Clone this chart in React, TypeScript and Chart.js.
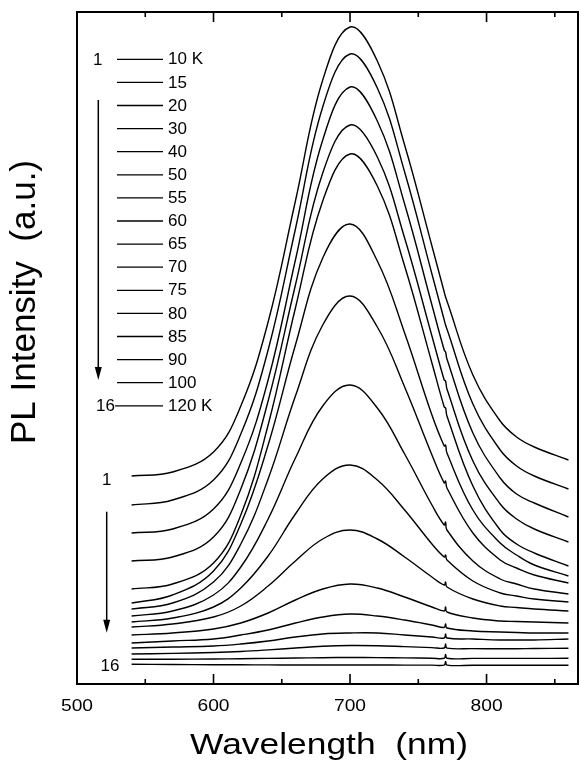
import React, { useEffect, useRef } from 'react';
import { Chart, registerables } from 'chart.js';

Chart.register(...registerables);

// Wavelength sample positions (nm)
const WAVELENGTHS = [540, 570, 600, 620, 640, 660, 680, 700, 720, 740, 760, 769, 770, 771, 790, 810, 822, 835, 860];

// PL intensity (a.u., stacked offsets as drawn), curves 1 (10 K) .. 16 (120 K)
const C1 = [207, 211, 231, 277, 361, 482, 603, 656, 622, 538, 437, 391, 386, 382, 308, 262, 246, 236, 223];
const C2 = [178, 183, 203, 249, 333, 454, 576, 629, 595, 511, 409, 363, 358, 354, 279, 233, 217, 207, 194];
const C3 = [150, 154, 174, 220, 303, 423, 543, 596, 562, 479, 378, 333, 331, 324, 250, 205, 189, 180, 166];
const C4 = [122, 126, 146, 194, 282, 398, 510, 558, 526, 445, 347, 303, 302, 294, 222, 179, 164, 154, 141];
const C5 = [94, 99, 120, 168, 258, 375, 482, 529, 497, 417, 320, 276, 275, 267, 197, 153, 139, 130, 117];
const C6 = [80, 88, 112, 159, 238, 338, 425, 459, 422, 350, 268, 237, 238, 230, 173, 140, 128, 118, 107];
const C7 = [74, 80, 101, 139, 204, 287, 358, 387, 356, 296, 228, 200, 202, 195, 150, 123, 115, 108, 100];
const C8 = [67, 72, 88, 116, 164, 225, 277, 298, 275, 229, 178, 158, 161, 153, 122, 104, 99, 94, 89];
const C9 = [61, 65, 76, 95, 127, 169, 204, 218, 203, 173, 139, 126, 128, 123, 102, 90, 87, 84, 81];
const C10 = [56, 59, 66, 77, 97, 122, 144, 153, 144, 126, 106, 98, 101, 96, 84, 77, 75.5, 74, 72];
const C11 = [48, 50, 54, 60, 70, 83, 94, 99, 95, 86, 76, 72, 76, 71, 65, 62, 61.5, 61, 60];
const C12 = [40, 42, 44, 48, 53, 60, 66, 69, 67, 63, 58, 55.5, 59, 55, 52, 51, 50.5, 50, 50];
const C13 = [35, 36, 37, 39, 42, 46, 49, 50, 50, 48, 46, 45, 49, 45, 44, 43, 43, 43, 44];
const C14 = [29, 29.6, 30.5, 31.5, 33.1, 35, 36.7, 37.5, 37.3, 36.4, 35.4, 35, 39, 34.9, 34.4, 34.2, 34.3, 34.5, 34.7];
const C15 = [23.7, 23.8, 24, 24.3, 24.6, 25, 25.3, 25.5, 25.4, 25.1, 24.8, 24.7, 28.5, 24.7, 24.6, 24.6, 24.6, 24.6, 24.7];
const C16 = [18.7, 18.5, 18.3, 18.2, 18.1, 18, 18, 18, 18, 17.9, 17.9, 17.9, 21.5, 17.9, 17.8, 17.8, 17.8, 17.7, 17.7];

const SERIES = [C1, C2, C3, C4, C5, C6, C7, C8, C9, C10, C11, C12, C13, C14, C15, C16];

const LEGEND_LABELS = ['10 K', '15', '20', '30', '40', '50', '55', '60', '65', '70', '75', '80', '85', '90', '100', '120 K'];
const X_TICK_LABELS = [500, 600, 700, 800];
const X_TICKS = [550, 600, 650, 700, 750, 800, 850];
const X_MIN = 500;
const X_MAX = 867;

const FONT = '"Liberation Sans", Arial, Helvetica, sans-serif';

function stretchedText(ctx: CanvasRenderingContext2D, text: string, x: number, y: number, sx: number) {
  ctx.save();
  ctx.translate(x, y);
  ctx.scale(sx, 1);
  ctx.textAlign = 'center';
  ctx.textBaseline = 'alphabetic';
  ctx.fillText(text, 0, 0);
  ctx.restore();
}

function arrow(ctx: CanvasRenderingContext2D, x: number, y0: number, y1: number) {
  ctx.beginPath();
  ctx.moveTo(x, y0);
  ctx.lineTo(x, y1 - 10);
  ctx.lineWidth = 1.5;
  ctx.stroke();
  ctx.beginPath();
  ctx.moveTo(x, y1);
  ctx.lineTo(x - 3.5, y1 - 13);
  ctx.lineTo(x + 3.5, y1 - 13);
  ctx.closePath();
  ctx.fill();
}

const decorPlugin = {
  id: 'decor',
  afterDraw(chart: any) {
    const ctx: CanvasRenderingContext2D = chart.ctx;
    const { left, right, top, bottom } = chart.chartArea;
    const xs = chart.scales.x;
    ctx.save();
    ctx.strokeStyle = '#000';
    ctx.fillStyle = '#000';

    // frame
    ctx.lineWidth = 2;
    ctx.strokeRect(left, top, right - left, bottom - top);

    // inward ticks, top and bottom
    ctx.lineWidth = 1.6;
    X_TICKS.forEach((v) => {
      const px = xs.getPixelForValue(v);
      const len = v % 100 === 0 ? 10 : 5;
      ctx.beginPath();
      ctx.moveTo(px, bottom);
      ctx.lineTo(px, bottom - len);
      ctx.moveTo(px, top);
      ctx.lineTo(px, top + len);
      ctx.stroke();
    });

    // tick labels
    ctx.font = `16px ${FONT}`;
    X_TICK_LABELS.forEach((v) => {
      stretchedText(ctx, String(v), xs.getPixelForValue(v), 710.5, 1.2);
    });

    // x title
    ctx.font = `29px ${FONT}`;
    stretchedText(ctx, 'Wavelength  (nm)', 329, 754, 1.22);

    // y title
    ctx.save();
    ctx.translate(34.5, 302);
    ctx.rotate(-Math.PI / 2);
    ctx.font = `35px ${FONT}`;
    ctx.textAlign = 'center';
    ctx.textBaseline = 'alphabetic';
    ctx.fillText('PL Intensity  (a.u.)', 0, 0);
    ctx.restore();

    // temperature legend
    ctx.font = `17px ${FONT}`;
    ctx.textBaseline = 'middle';
    LEGEND_LABELS.forEach((lab, i) => {
      const y = 59.3 + i * 23.1;
      ctx.lineWidth = 1.3;
      ctx.beginPath();
      ctx.moveTo(i === LEGEND_LABELS.length - 1 ? 115 : 117, y);
      ctx.lineTo(163, y);
      ctx.stroke();
      ctx.textAlign = 'left';
      ctx.fillText(lab, 168, y + 0.5);
    });
    ctx.textAlign = 'center';
    ctx.fillText('1', 97.7, 60);
    ctx.textAlign = 'right';
    ctx.fillText('16', 115, 59.3 + 15 * 23.1 + 0.5);
    arrow(ctx, 98.3, 100, 380);

    // lower curve numbering
    ctx.textAlign = 'center';
    ctx.fillText('1', 106.7, 480);
    ctx.fillText('16', 110, 666);
    arrow(ctx, 106.7, 511.7, 632.7);

    ctx.restore();
  },
};

export default function App() {
  const ref = useRef<HTMLCanvasElement | null>(null);

  useEffect(() => {
    if (!ref.current) return;
    const datasets = SERIES.map((s, k) => ({
      label: LEGEND_LABELS[k],
      data: WAVELENGTHS.map((w, i) => ({ x: w, y: s[i] })),
      borderColor: '#000',
      borderWidth: 1.4,
      pointRadius: 0,
      fill: false,
      tension: 0.4,
    }));
    const chart = new Chart(ref.current, {
      type: 'line',
      data: { datasets },
      options: {
        animation: false,
        responsive: false,
        maintainAspectRatio: false,
        layout: { padding: { left: 77, right: 3, top: 12, bottom: 80 } },
        plugins: { legend: { display: false }, tooltip: { enabled: false } },
        scales: {
          x: { type: 'linear', min: X_MIN, max: X_MAX, display: false },
          y: { type: 'linear', min: -1, max: 671, display: false },
        },
      },
      plugins: [decorPlugin],
    });
    return () => chart.destroy();
  }, []);

  return (
    <div style={{ position: 'fixed', left: 0, top: 0, width: 581, height: 764, background: '#fff' }}>
      <canvas ref={ref} width={581} height={764} style={{ display: 'block' }} />
    </div>
  );
}
